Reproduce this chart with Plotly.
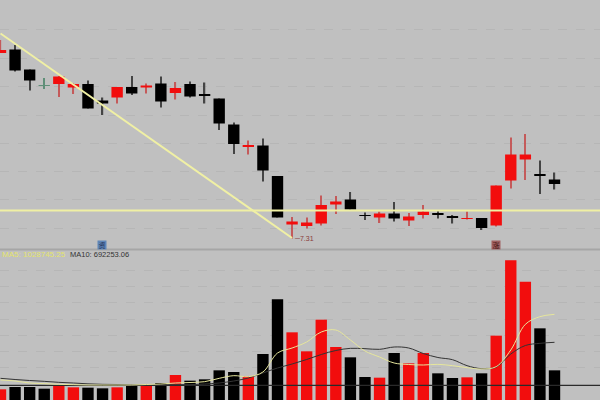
import plotly.graph_objects as go

opens  = [11.02,11.09,10.69,10.38,10.40,10.33,10.40,10.07,10.13,10.34,10.33,10.41,10.22,10.40,10.19,10.11,9.59,9.15,9.17,8.56,7.59,7.56,7.61,7.99,8.09,7.77,7.73,7.81,7.67,7.78,7.81,7.75,7.71,7.72,7.57,8.47,8.89,8.59,8.49]
highs  = [11.28,11.18,10.69,10.52,10.56,10.42,10.47,10.13,10.34,10.56,10.41,10.55,10.44,10.45,10.43,10.11,9.63,9.27,9.31,8.56,7.74,7.73,8.17,8.16,8.24,7.83,7.85,8.04,7.82,7.98,7.87,7.78,7.85,7.72,8.37,9.33,9.40,8.87,8.63]
lows   = [11.02,10.65,10.27,10.30,10.14,10.20,9.91,9.78,10.01,10.18,10.21,9.93,10.09,10.13,10.01,9.48,9.00,8.99,8.45,7.73,7.31,7.51,7.57,7.80,7.89,7.68,7.62,7.65,7.56,7.71,7.71,7.61,7.69,7.48,7.55,8.31,8.48,8.20,8.29]
closes = [11.08,10.67,10.47,10.36,10.55,10.40,9.91,10.01,10.34,10.21,10.37,10.05,10.32,10.15,10.17,9.61,9.20,9.17,8.67,7.73,7.65,7.63,7.98,8.05,7.89,7.76,7.81,7.71,7.75,7.85,7.79,7.73,7.72,7.52,8.37,8.99,8.99,8.57,8.40]
volumes = [128000,156000,156000,136000,180000,152000,148000,140000,152000,172000,172000,204000,300000,232000,248000,356000,336000,284000,552000,1208000,812000,584000,964000,636000,512000,276000,268000,564000,440000,564000,320000,264000,272000,320000,772000,1676000,1420000,860000,356000]
ma5  = [240000,228000,204000,196000,188000,184000,180000,180000,180000,180000,186000,192000,204000,210000,220000,260000,292000,280000,336000,564000,624000,696000,816000,840000,720000,588000,516000,444000,426000,420000,428000,412000,388000,372000,400000,600000,908000,1000000,1028000]
ma10 = [260000,246000,234000,224000,212000,204000,194000,188000,186000,180000,180000,182000,184000,184000,192000,204000,228000,264000,324000,384000,432000,486000,546000,594000,620000,616000,608000,636000,624000,558000,510000,484000,412000,376000,396000,552000,654000,680000,692253]
days = list(range(len(opens)))
flat_day = 3

trend_days = [0, 20]
trend_prices = [11.41, 7.32]
support_days = [-1, 42]
support_prices = [7.87, 7.87]
base_days = [-1, 42]
base_volumes = [176000, 176000]

price_grid = [11.50, 10.92, 10.35, 9.78, 9.22, 8.66, 8.09, 7.52]
volume_grid = [1560000, 1364000, 1168000, 972000, 776000, 582000, 386000]

low_label = "7.31"
ma5_label = "MA5: 1028745.25"
ma10_label = "MA10: 692253.06"

RED, BLACK, GREEN = "#f20d0d", "#000000", "#5f8f78"
RED_W, BLACK_W = "#c45a5a", "#444444"
up = [c > o for o, c in zip(opens, closes)]
body_colors = [GREEN if i == flat_day else (RED if u else BLACK) for i, u in enumerate(up)]
wick_colors = [GREEN if i == flat_day else (RED_W if u else BLACK_W) for i, u in enumerate(up)]
vol_colors = [RED if u else BLACK for u in up]

fig = go.Figure()
fig.add_bar(x=days, base=lows, y=[h - l for h, l in zip(highs, lows)], width=0.09,
            marker=dict(color=wick_colors, line_width=0), yaxis="y2")
fig.add_bar(x=days, base=[min(o, c) for o, c in zip(opens, closes)],
            y=[abs(o - c) for o, c in zip(opens, closes)], width=0.78,
            marker=dict(color=body_colors, line_width=0), yaxis="y2")
fig.add_scatter(x=trend_days, y=trend_prices, mode="lines", line=dict(color="#f0f0a4", width=2), yaxis="y2")
fig.add_scatter(x=support_days, y=support_prices, mode="lines", line=dict(color="#f0f0a4", width=2), yaxis="y2")

fig.add_bar(x=days, y=volumes, width=0.78, marker=dict(color=vol_colors, line_width=0), yaxis="y")
fig.add_scatter(x=base_days, y=base_volumes, mode="lines", line=dict(color="#2a2a2a", width=1.3), yaxis="y")
fig.add_scatter(x=days, y=ma10, mode="lines", line=dict(color="#333333", width=1, shape="spline"), yaxis="y")
fig.add_scatter(x=days, y=ma5, mode="lines", line=dict(color="#e6e69c", width=1, shape="spline"), yaxis="y")

fig.update_layout(
    width=600, height=400, margin=dict(l=0, r=0, t=0, b=0),
    paper_bgcolor="#c0c0c0", plot_bgcolor="#c0c0c0",
    barmode="overlay", showlegend=False, hovermode=False,
    font=dict(family="Liberation Sans, Arial, sans-serif", size=8),
    xaxis=dict(range=[-0.034, 41.12], visible=False, fixedrange=True),
    yaxis=dict(domain=[0, 0.375], range=[0, 1800000], showticklabels=False, ticks="",
               tickvals=volume_grid, gridcolor="#b6b6b6", griddash="dash", gridwidth=1, zeroline=False),
    yaxis2=dict(domain=[0.375, 1], range=[7.08, 12.08], showticklabels=False, ticks="",
                tickvals=price_grid, gridcolor="#b6b6b6", griddash="dash", gridwidth=1, zeroline=False),
    shapes=[dict(type="line", xref="paper", yref="paper", x0=0, x1=1, y0=0.376, y1=0.376,
                 line=dict(color="#a6a6a6", width=2))],
    annotations=[
        dict(x=20, y=lows[20], xref="x", yref="y2", text="─" + low_label, showarrow=False,
             xanchor="left", yanchor="middle", font=dict(size=7, color="#8a3a3a")),
        dict(x=68 / 600, y=146 / 400, xref="paper", yref="paper", text=ma10_label, showarrow=False,
             xanchor="left", yanchor="middle", font=dict(size=7.5, color="#333333")),
        dict(x=0, y=146 / 400, xref="paper", yref="paper", text=ma5_label, showarrow=False,
             xanchor="left", yanchor="middle", font=dict(size=8, color="#e4e46c")),
        dict(x=102 / 600, y=155 / 400, xref="paper", yref="paper", text="资", showarrow=False,
             xanchor="center", yanchor="middle", width=8, height=8, bgcolor="#5f86b8", borderpad=0,
             font=dict(size=7, color="#1f2f55", family="Noto Sans CJK SC")),
        dict(x=496 / 600, y=155 / 400, xref="paper", yref="paper", text="涨", showarrow=False,
             xanchor="center", yanchor="middle", width=8, height=8, bgcolor="#a06060", borderpad=0,
             font=dict(size=7, color="#3a1010", family="Noto Sans CJK SC")),
    ],
)
fig.write_html("out.html", config={"displayModeBar": False},
               post_script="document.body.style.margin='0';document.body.style.overflow='hidden';")
